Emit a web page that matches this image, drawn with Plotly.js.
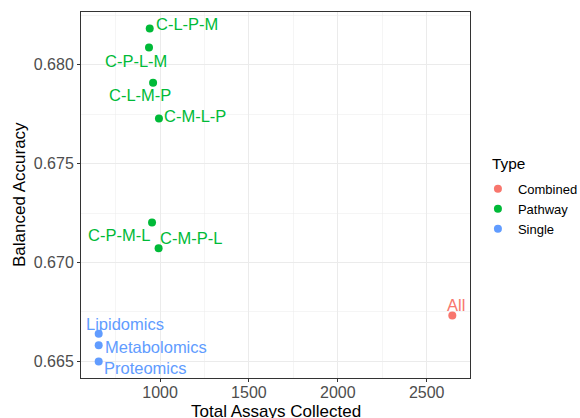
<!DOCTYPE html>
<html>
<head>
<meta charset="utf-8">
<script src="https://cdn.plot.ly/plotly-3.0.1.min.js"></script>
<style>html,body{margin:0;padding:0;background:#fff;}#chart{width:580px;height:418px;}</style>
</head>
<body>
<div id="chart"></div>
<script>
// ---- data ----
const labels   = ["All", "C-L-P-M", "C-P-L-M", "C-L-M-P", "C-M-L-P", "C-P-M-L", "C-M-P-L", "Lipidomics", "Metabolomics", "Proteomics"];
const types    = ["Combined", "Pathway", "Pathway", "Pathway", "Pathway", "Pathway", "Pathway", "Single", "Single", "Single"];
const assays   = [2644, 942, 938, 961, 994, 955, 992, 655, 655, 655];
const accuracy = [0.66732, 0.68183, 0.68087, 0.67909, 0.67729, 0.67202, 0.67072, 0.66640, 0.66582, 0.66500];
const typeOrder = ["Combined", "Pathway", "Single"];
const xTicks = [1000, 1500, 2000, 2500];
const yTicks = [0.665, 0.670, 0.675, 0.680];

// ---- styling (label offsets in px, not data) ----
const colors = {Combined: "#F8766D", Pathway: "#00BA38", Single: "#619CFF"};
const labelShift = {
  "All": [4, 11], "C-L-P-M": [37, 5], "C-P-L-M": [-13, -13], "C-L-M-P": [-13, -12],
  "C-M-L-P": [36, 2], "C-P-M-L": [-33, -12], "C-M-P-L": [32, 10],
  "Lipidomics": [26, 10], "Metabolomics": [57, -2], "Proteomics": [47, -7]
};
const FONT = "Liberation Sans, Arial, sans-serif";

const traces = typeOrder.map(t => {
  const idx = types.map((v, i) => v === t ? i : -1).filter(i => i >= 0);
  return {
    type: "scatter", mode: "markers", name: t,
    x: idx.map(i => assays[i]), y: idx.map(i => accuracy[i]),
    marker: {color: colors[t], size: 8},
    hoverinfo: "x+y+name"
  };
});

const annotations = labels.map((lab, i) => ({
  x: assays[i], y: accuracy[i], xref: "x", yref: "y",
  text: lab, showarrow: false, xanchor: "center", yanchor: "middle",
  xshift: labelShift[lab][0], yshift: labelShift[lab][1],
  font: {family: FONT, size: 16.5, color: colors[types[i]]}
}));
annotations.push({
  xref: "paper", yref: "paper", x: 0.5, y: 0, xanchor: "center", yanchor: "middle",
  yshift: -33, showarrow: false, text: "Total Assays Collected",
  font: {family: FONT, size: 17, color: "#000"}
});
annotations.push({
  xref: "paper", yref: "paper", x: 0, y: 0.5, xanchor: "center", yanchor: "middle",
  xshift: -62, textangle: -90, showarrow: false, text: "Balanced Accuracy",
  font: {family: FONT, size: 17, color: "#000"}
});
annotations.push({
  xref: "paper", yref: "paper", x: 1, y: 1, xanchor: "center", yanchor: "middle",
  xshift: 38, yshift: -151, showarrow: false, text: "Type",
  font: {family: FONT, size: 15.4, color: "#000"}
});

const axisCommon = {
  showline: true, mirror: true, linecolor: "#333333", linewidth: 1,
  ticks: "outside", ticklen: 3, tickwidth: 1, tickcolor: "#333333",
  tickfont: {family: FONT, size: 16, color: "#4D4D4D"},
  showgrid: true, gridcolor: "#EBEBEB", gridwidth: 1, zeroline: false,
  automargin: false
};

const layout = {
  width: 580, height: 418,
  margin: {l: 81, r: 110, t: 12, b: 40, pad: 0, autoexpand: false},
  paper_bgcolor: "#fff", plot_bgcolor: "#fff",
  showlegend: true,
  legend: {xref: "container", yref: "container", x: 0.824, y: 0.584, xanchor: "left", yanchor: "top",
           font: {family: FONT, size: 13, color: "#000"}, bgcolor: "rgba(0,0,0,0)"},
  xaxis: Object.assign({}, axisCommon, {
    range: [555.5, 2743.5], tickmode: "array", tickvals: xTicks,
    ticktext: xTicks.map(String), ticklabelstandoff: -3,
    minor: {dtick: 250, tick0: 750, showgrid: true, gridcolor: "#EBEBEB", gridwidth: 0.5, ticklen: 0}
  }),
  yaxis: Object.assign({}, axisCommon, {
    range: [0.66416, 0.68267], tickmode: "array", tickvals: yTicks,
    ticktext: yTicks.map(v => v.toFixed(3)),
    minor: {dtick: 0.005, tick0: 0.6625, showgrid: true, gridcolor: "#EBEBEB", gridwidth: 0.5, ticklen: 0}
  }),
  annotations: annotations,
  font: {family: FONT}
};

Plotly.newPlot("chart", traces, layout, {displayModeBar: false, staticPlot: true});
</script>
</body>
</html>
